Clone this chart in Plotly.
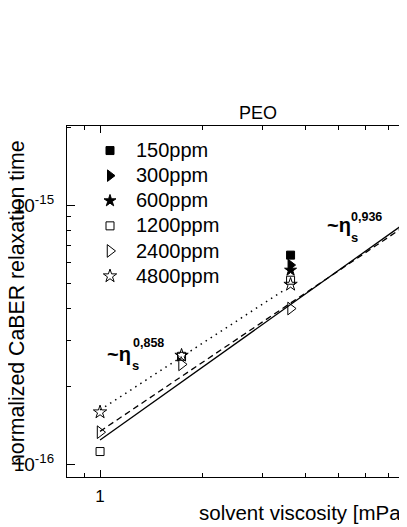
import numpy as np
import plotly.graph_objects as go

# PEO: normalized CaBER relaxation time vs solvent viscosity

concentrations = ["150ppm", "300ppm", "600ppm", "1200ppm", "2400ppm", "4800ppm"]

visc_150 = [3.62]
tau_150 = [6.41e-16]
visc_300 = [3.62]
tau_300 = [5.87e-16]
visc_600 = [3.62]
tau_600 = [5.61e-16]
visc_1200 = [1.0, 1.734, 3.62]
tau_1200 = [1.12e-16, 2.61e-16, 5.13e-16]
visc_2400 = [1.0, 1.734, 3.62]
tau_2400 = [1.33e-16, 2.43e-16, 3.99e-16]
visc_4800 = [1.0, 1.734, 3.62]
tau_4800 = [1.59e-16, 2.63e-16, 4.94e-16]

# power law guide lines (end points)
fit_solid_x = [1.0, 10.0]
fit_solid_y = [1.24e-16, 1.07e-15]
fit_dash_x = [1.0, 10.0]
fit_dash_y = [1.34e-16, 1.03e-15]
fit_dot_x = [1.0, 3.45]
fit_dot_y = [1.62e-16, 4.68e-16]

FONT = "Liberation Sans, Arial, sans-serif"

# the page has an 8px body margin, so the figure is drawn shifted by OFF
OFF = 8
# plot area in page pixels (right edge runs past the window)
L, R, T, B = 67, 415, 126, 477


def px(x, y):
    return (x - L) / (R - L), (B - y) / (B - T)


fig = go.Figure()

series = [
    (visc_150, tau_150, "square", 8),
    (visc_300, tau_300, "triangle-right", 10),
    (visc_600, tau_600, "star", 9),
    (visc_1200, tau_1200, "square-open", 8),
    (visc_2400, tau_2400, "triangle-right-open", 11),
    (visc_4800, tau_4800, "star-open", 10),
]
for name, (xs, ys, sym, sz) in zip(concentrations, series):
    fig.add_trace(go.Scatter(
        x=xs, y=ys, mode="markers",
        name='<span style="font-size:20px">' + name + '</span>',
        marker=dict(symbol=sym, size=sz, color="black",
                    line=dict(color="black", width=1)),
    ))

fig.add_trace(go.Scatter(x=fit_solid_x, y=fit_solid_y, mode="lines", showlegend=False,
                         line=dict(color="black", width=1.3)))
fig.add_trace(go.Scatter(x=fit_dash_x, y=fit_dash_y, mode="lines", showlegend=False,
                         line=dict(color="black", width=1.3, dash="6px,4px")))
fig.add_trace(go.Scatter(x=fit_dot_x, y=fit_dot_y, mode="lines", showlegend=False,
                         line=dict(color="black", width=1.5, dash="1.5px,4.5px")))

annots = []


def label(x, y, text, size, xanchor="left", angle=0):
    ax, ay = px(x, y)
    annots.append(dict(x=ax, y=ay, xref="paper", yref="paper", text=text,
                       showarrow=False, xanchor=xanchor, yanchor="middle",
                       textangle=angle, font=dict(family=FONT, size=size, color="black")))


label(258, 113, "PEO", 18, xanchor="center")
label(197, 512, "solvent viscosity [mPa s]", 20.5)
label(17, 303, "normalized CaBER relaxation time", 21.3, xanchor="center", angle=-90)

# exponent labels
label(105, 354, "<b>~η</b>", 20)
label(130, 365, "<b>s</b>", 13)
label(131, 343, "<b>0,858</b>", 12.5)
label(325, 225, "<b>~η</b>", 20)
label(349, 237, "<b>s</b>", 13)
label(349, 217, "<b>0,936</b>", 12.5)

lx, ly = px(84, 133)

fig.update_layout(
    width=407, height=527,
    margin=dict(l=L - OFF, r=0, t=T - OFF, b=527 - (B - OFF)),
    paper_bgcolor="white", plot_bgcolor="white",
    font=dict(family=FONT, color="black"),
    annotations=annots,
    legend=dict(x=lx, y=ly, xanchor="left", yanchor="top", itemwidth=42,
                bgcolor="rgba(0,0,0,0)", font=dict(size=17, family=FONT)),
)

fig.update_xaxes(
    type="log", range=[np.log10(0.8), np.log10(0.8) + (R - L) / 341],
    showgrid=False, zeroline=False,
    showline=True, linecolor="black", linewidth=1.3, mirror="ticks",
    ticks="inside", ticklen=7, tickwidth=1.2, tickcolor="black",
    tickmode="array", tickvals=[1], ticktext=["1"],
    tickfont=dict(size=17, family=FONT), ticklabelstandoff=3,
    minor=dict(ticks="inside", ticklen=4, tickwidth=1.2, tickcolor="black",
               tickmode="array", tickvals=[0.9, 2, 3, 4, 5, 6, 7, 8, 9]),
)
fig.update_yaxes(
    type="log", range=[-16.049, -14.695],
    showgrid=False, zeroline=False,
    showline=True, linecolor="black", linewidth=1.3, mirror=False,
    ticks="inside", ticklen=8, tickwidth=1.2, tickcolor="black",
    tickmode="array", tickvals=[1e-16, 1e-15],
    ticktext=["10<sup>-16</sup>", "10<sup>-15</sup>"],
    tickfont=dict(size=19, family=FONT), ticklabelstandoff=8,
    minor=dict(ticks="inside", ticklen=4, tickwidth=1.2, tickcolor="black",
               tickmode="array",
               tickvals=[2e-16, 3e-16, 4e-16, 5e-16, 6e-16, 7e-16, 8e-16, 9e-16, 2e-15]),
)

fig.write_html("out.html")
